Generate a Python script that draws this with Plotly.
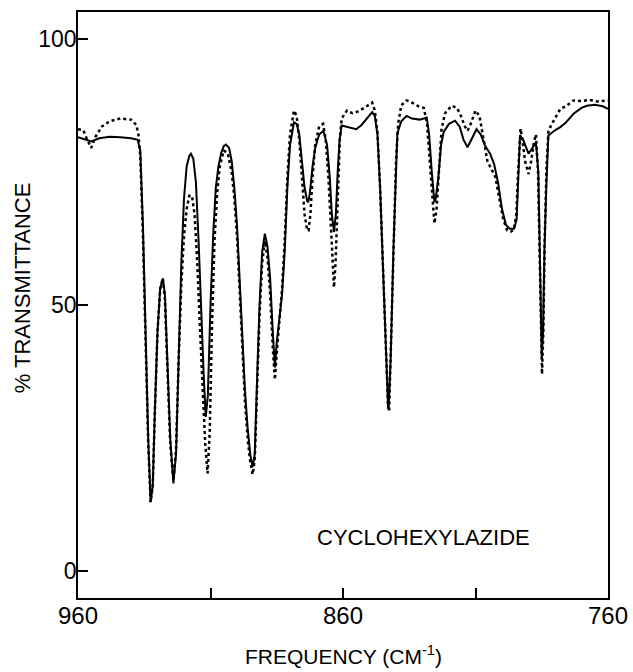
import plotly.graph_objects as go

# ---- data (frequency in cm-1, % transmittance) ----
solid_freq = [960, 957, 955, 952, 948, 944, 940, 937.5, 936.5, 935.5, 934.5, 933.5, 932.6, 931.8, 931, 930, 929, 928,
              927.2, 926.3, 925.2, 924, 923, 922, 921, 920, 919, 918, 917.4, 916.5, 915.5, 914.5, 913.5, 912.5, 911.8,
              911, 910, 909, 908, 907, 906, 905, 904.2, 903, 902, 901, 900, 899, 898, 897, 896, 895, 894.1, 893.3,
              892.5, 891.5, 890.5, 889.5, 888.5, 887.5, 886.5, 885.7, 885, 884, 883, 882, 881, 880, 879, 878.5, 877.5,
              876.5, 875.5, 874.5, 873.5, 873.1, 872.5, 871.5, 870.5, 869, 867.4, 866, 865, 864.2, 863.4, 862.7, 862,
              861.3, 860.5, 858, 856, 855, 853, 851, 849, 848, 847, 846, 845, 844, 843, 842.8, 842, 841, 840, 839.5,
              838, 836, 834, 831, 828.4, 827.5, 826.5, 825.5, 825, 824, 823, 822, 820, 817.7, 816, 814.5, 813, 811.5,
              809.6, 808, 806.5, 804.5, 803, 801.5, 800, 798.5, 797, 795.5, 794.5, 794, 793.5, 793.2, 792, 790, 788.5,
              787.2, 786.3, 785.7, 785.2, 785, 784.5, 784, 783.3, 782.5, 780, 778, 776, 773, 770, 768, 765, 762, 760]
solid_T = [81.5, 81.0, 80.7, 81.3, 81.6, 81.5, 81.3, 81.0, 79, 65, 45, 25, 13, 16, 30, 45, 53, 55,
           52, 40, 25, 16.5, 22, 40, 58, 70, 76, 78, 78.4, 77.5, 73, 62, 48, 36, 29,
           33, 50, 63, 72, 76, 78.5, 79.8, 80.1, 79.5, 77, 72, 65, 55, 44, 34, 27, 22, 19.6, 22,
           35, 50, 60, 63.4, 61, 55, 45, 38.3, 43, 48, 52, 60, 72, 80, 83.5, 84.3, 84,
           82, 77, 72, 69.5, 69.3, 71, 76, 79.5, 82, 82.7, 80, 74, 67, 63.7, 67, 75,
           81, 83.7, 83.4, 83.2, 83, 83.8, 85, 86.2, 85.5, 82, 72, 58, 42, 31, 30.5, 40, 60, 76, 82.2,
           84.5, 85.5, 85, 84.8, 85.2, 82, 75, 69.3, 70, 74, 80, 82.5, 84, 84.6, 83.5, 81, 79.6, 81,
           83, 82, 80, 78.4, 76.5, 73, 68, 65, 64.3, 64.3, 66, 72, 79, 81.8, 81, 78.4, 79.5,
           80.5, 75, 60, 45, 40.2, 45, 60, 72, 81.8, 82.8, 83.4, 84.2, 85.9, 87, 87.4, 87.6, 87.3, 86.8]

dotted_freq = [960, 958, 956.5, 955, 953.5, 951, 948, 944, 940, 938, 937.2, 936.5, 935.5, 934.5, 933.5, 932.6, 931.8,
               931, 930, 929, 928, 927.2, 926.3, 925.2, 924, 923, 922, 921, 920, 919, 918, 917, 916, 915, 914, 913,
               912, 911.1, 910.3, 909.5, 908.5, 907.5, 906.5, 905, 903.5, 902, 901, 900, 899, 898, 897, 896, 895,
               894.1, 893.3, 892.5, 891.5, 890.5, 889.5, 888.5, 887.5, 886.5, 885.7, 885, 884, 883, 882, 881, 880,
               879, 878.5, 877.5, 876.5, 875.5, 874.5, 873.5, 873, 872.3, 871.5, 870.5, 869, 867.5, 866.5, 865.5,
               864.5, 863.8, 863.4, 862.8, 862, 861.2, 860.5, 858.5, 856.5, 854.5, 852, 850, 849, 848, 847, 846, 845,
               844, 843, 842.6, 842, 841, 840, 839.2, 838, 836, 834, 831.5, 829.5, 828.3, 827.3, 826.3, 825.5, 824.7,
               823.8, 822.8, 821.5, 819, 817, 815.5, 814, 813, 811.8, 810, 808.5, 807, 805.5, 804, 802.5, 801, 799.5,
               798, 796.5, 795.5, 794.6, 794, 793.5, 793, 792.3, 791.3, 790, 789, 788, 787.2, 786.4, 785.8, 785.3,
               784.9, 784.4, 783.9, 783.2, 782.5, 781.5, 780, 778, 776, 773, 770, 767, 764, 760]
dotted_T = [83, 82.8, 81, 79.5, 81.5, 83.5, 84.5, 85, 84.8, 83.8, 82, 78, 63, 44, 24, 13, 16,
            30, 45, 53, 55, 51, 38, 24, 17, 23, 40, 54, 63, 68, 70.5, 70.5, 67, 58, 46, 34,
            24, 18.4, 26, 45, 62, 71, 76, 79, 78.5, 75, 70, 63, 53, 42, 32, 25, 20.5,
            18.2, 21, 33, 48, 58, 62, 59, 52, 42, 36, 41, 47, 53, 62, 74, 82,
            85.5, 86.5, 85.5, 81, 74, 67, 64, 64, 67, 74, 80, 83.5, 84, 81, 74,
            63, 55, 53.3, 58, 70, 81, 85, 86.5, 86, 86.3, 87, 87.7, 88, 86.5, 82.5, 72, 58,
            42, 31, 30, 40, 60, 77, 84, 87.5, 88.4, 88, 87.3, 87, 84, 77, 70, 65.3, 68,
            76, 83, 86, 87.4, 87, 85.5, 83.5, 82.7, 84, 86.5, 85.5, 81, 77, 75.5, 74, 70, 66,
            64, 63.8, 64.2, 67, 74, 80, 83.1, 81, 77, 74.6, 77, 80.5, 82, 75, 60, 45,
            37, 45, 62, 76, 82.5, 83.7, 85, 86.8, 87.3, 88.4, 88.3, 88.5, 88.2, 88.4]

x_tickvals = [960, 910, 860, 810, 760]
x_ticktext = ["960", "", "860", "", "760"]
y_tickvals = [0, 50, 100]
y_ticktext = ["0", "50", "100"]

compound_label = "CYCLOHEXYLAZIDE"
x_title = "FREQUENCY (CM<sup>-1</sup>)"
y_title = "% TRANSMITTANCE"

FONT = "Liberation Sans, Arial, sans-serif"

fig = go.Figure()
fig.add_trace(go.Scatter(x=dotted_freq, y=dotted_T, mode="lines",
                         line=dict(color="black", width=2.5, dash="dot"),
                         showlegend=False, hoverinfo="skip"))
fig.add_trace(go.Scatter(x=solid_freq, y=solid_T, mode="lines",
                         line=dict(color="black", width=2),
                         showlegend=False))

fig.add_annotation(x=829.6, y=6.3, text=compound_label, showarrow=False,
                   font=dict(family=FONT, size=22, color="black"),
                   xanchor="center", yanchor="middle")
# axis titles placed as paper-anchored annotations
fig.add_annotation(xref="paper", yref="paper", x=-0.104, y=0.53, text=y_title,
                   textangle=-90, showarrow=False, xanchor="center", yanchor="middle",
                   font=dict(family=FONT, size=22, color="black"))
fig.add_annotation(xref="paper", yref="paper", x=0.5, y=-0.097, text=x_title,
                   showarrow=False, xanchor="center", yanchor="middle",
                   font=dict(family=FONT, size=21, color="black"))

fig.update_layout(
    width=633, height=672,
    margin=dict(l=78, r=25, t=12, b=74),
    paper_bgcolor="white", plot_bgcolor="white",
    font=dict(family=FONT, color="black"),
)
fig.update_xaxes(range=[960, 760], tickvals=x_tickvals, ticktext=x_ticktext,
                 ticks="inside", ticklen=10, tickwidth=1.5, tickcolor="black",
                 showline=True, linecolor="black", linewidth=1.5, mirror=True,
                 showgrid=False, zeroline=False, automargin=False,
                 ticklabelstandoff=-5,
                 tickfont=dict(family=FONT, size=24, color="black"))
fig.update_yaxes(range=[-5, 105], tickvals=y_tickvals, ticktext=y_ticktext,
                 ticks="inside", ticklen=10, tickwidth=1.5, tickcolor="black",
                 showline=True, linecolor="black", linewidth=1.5, mirror=True,
                 showgrid=False, zeroline=False, automargin=False,
                 ticklabelstandoff=-5,
                 tickfont=dict(family=FONT, size=23, color="black"))

fig.write_html("out.html", config={"displayModeBar": False},
               post_script="document.body.style.margin='0';document.body.style.overflow='hidden';")
